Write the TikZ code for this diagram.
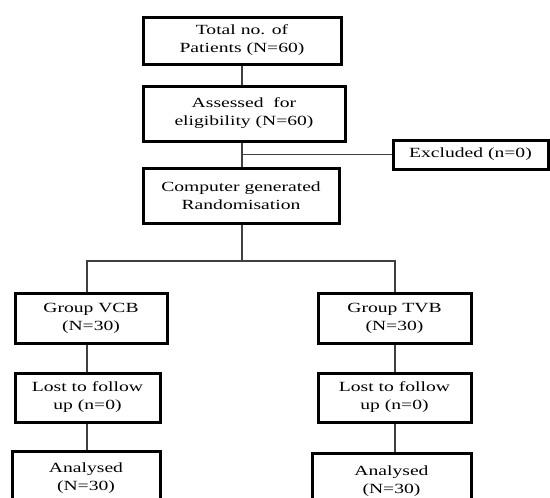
\documentclass[tikz,border=0pt]{standalone}
\usepackage{fontspec}
\setmainfont{Liberation Serif}[FakeStretch=1.4]
\begin{document}
\begin{tikzpicture}[x=1pt,y=-1pt,
  box/.style={draw=black,line width=3pt,fill=white,align=center,inner sep=0pt,
    font=\fontsize{14}{18}\selectfont},
  conn/.style={draw=black!75,line width=1.1pt}]
\useasboundingbox (0,0) rectangle (550,498);
\clip (0,0) rectangle (550,498);
\node[box,minimum width=198pt,minimum height=47pt] (tot) at (242,40.5) {Total no. of\\Patients (N=60)};
\node[box,minimum width=202pt,minimum height=55pt] (ass) at (244,113.5) {Assessed\ \ for\\eligibility (N=60)};
\node[box,minimum width=196pt,minimum height=55pt] (rand) at (241,195.5) {Computer generated\\Randomisation};
\node[box,minimum width=155pt,minimum height=29pt] (excl) at (470.5,154.5) {Excluded (n=0)};
\node[box,minimum width=152pt,minimum height=50pt] (vcb) at (91,318) {Group VCB\\(N=30)};
\node[box,minimum width=145pt,minimum height=49pt] (lost1) at (87.5,397.5) {Lost to follow\\up (n=0)};
\node[box,minimum width=148pt,minimum height=55pt] (ana1) at (86,478.5) {Analysed\\(N=30)};
\node[box,minimum width=153pt,minimum height=50pt] (tvb) at (394.5,318) {Group TVB\\(N=30)};
\node[box,minimum width=153pt,minimum height=49pt] (lost2) at (394.5,397.5) {Lost to follow\\up (n=0)};
\node[box,minimum width=159pt,minimum height=55pt] (ana2) at (391.5,481) {Analysed\\(N=30)};
\coordinate (spine) at (242,0);
\coordinate (split) at (242,261);
\coordinate (vl) at (87,0);
\coordinate (vr) at (395,0);
\draw[conn] (spine |- tot.south) -- (spine |- ass.north);
\draw[conn] (spine |- ass.south) -- (spine |- rand.north);
\draw[conn] (spine |- excl.west) -- (excl.west);
\draw[conn] (spine |- rand.south) -- (split);
\draw[conn] (vl |- vcb.north) -- (vl |- split) -- (vr |- split) -- (vr |- tvb.north);
\draw[conn] (vl |- vcb.south) -- (vl |- lost1.north);
\draw[conn] (vl |- lost1.south) -- (vl |- ana1.north);
\draw[conn] (vr |- tvb.south) -- (vr |- lost2.north);
\draw[conn] (vr |- lost2.south) -- (vr |- ana2.north);
\end{tikzpicture}
\end{document}
